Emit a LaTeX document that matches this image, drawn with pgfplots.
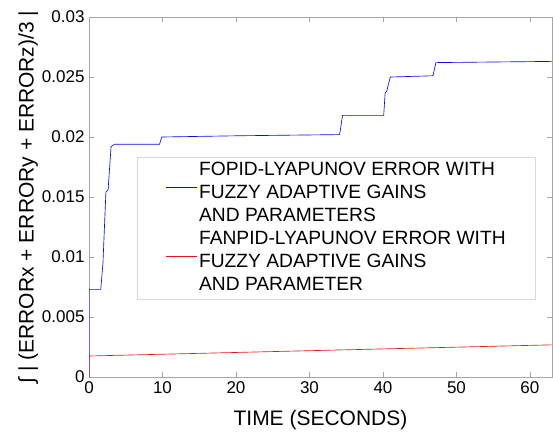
\documentclass[border=0pt]{standalone}
\usepackage{fontspec}
\setmainfont{Liberation Sans}
\usepackage{pgfplots}
\pgfplotsset{compat=1.18}
\definecolor{mblue}{RGB}{10,10,235}
\definecolor{mred}{RGB}{235,20,20}
\begin{document}
\begin{tikzpicture}
\begin{axis}[
  scale only axis, width=463pt, height=360pt,
  xmin=0, xmax=63, ymin=0, ymax=0.03,
  xtick={0,10,20,30,40,50,60},
  ytick={0,0.005,0.01,0.015,0.02,0.025,0.03},
  yticklabels={0,0.005,0.01,0.015,0.02,0.025,0.03},
  scaled y ticks=false,
  tick align=inside, tick pos=both,
  major tick length=5pt,
  axis line style={gray!70}, tick style={gray!70},
  /pgf/number format/assume math mode=true,
  tick label style={font=\fontsize{17}{20}\selectfont, black},
  yticklabel style={xshift=-1pt},
  xticklabel style={yshift=-1pt},
  xlabel={TIME (SECONDS)},
  ylabel={∫ | (ERRORx + ERRORy + ERRORz)/3 |},
  label style={font=\fontsize{21}{24}\selectfont},
  xlabel style={yshift=-10pt},
  ylabel style={yshift=-3pt},
  legend style={at={(0.104,0.611)}, anchor=north west, draw=gray!30,
    font=\fontsize{19.2}{23}\selectfont, inner xsep=28pt, inner ysep=2pt,
    nodes={inner ysep=0pt, inner xsep=2pt, text height=16pt, text depth=7pt}},
  legend cell align=left,
  legend image code/.code={\draw[#1] (0pt,6.5pt) -- (31pt,6.5pt);},
]
\addplot[draw=mblue, line width=0.65pt, forget plot] coordinates {
(0,0) (0.02,0.0073) (1.6,0.0073) (1.9,0.0095) (2.3,0.0154) (2.6,0.0156) (3.0,0.0192) (3.5,0.0194) (9.6,0.0194) (9.9,0.0200) (20,0.0201) (34.1,0.0202) (34.5,0.0218) (40.1,0.0218) (40.3,0.0237) (40.5,0.0238) (41,0.0250) (46.8,0.0251) (47.2,0.0262) (63,0.0263)
};
\addplot[draw=mred, line width=0.65pt, forget plot] coordinates {
(0,0) (0.03,0.00175) (63,0.00268)
};
\addlegendimage{empty legend}
\addlegendentry{FOPID-LYAPUNOV ERROR WITH}
\addlegendimage{color=mblue, draw=mblue, line width=0.8pt}
\addlegendentry{FUZZY ADAPTIVE GAINS}
\addlegendimage{empty legend}
\addlegendentry{AND PARAMETERS}
\addlegendimage{empty legend}
\addlegendentry{FANPID-LYAPUNOV ERROR WITH}
\addlegendimage{color=mred, draw=mred, line width=0.8pt}
\addlegendentry{FUZZY ADAPTIVE GAINS}
\addlegendimage{empty legend}
\addlegendentry{AND PARAMETER}
\end{axis}
\path ([shift={(-89pt,-59pt)}]current axis.south west) rectangle ([shift={(1pt,17pt)}]current axis.north east);
\end{tikzpicture}
\end{document}
